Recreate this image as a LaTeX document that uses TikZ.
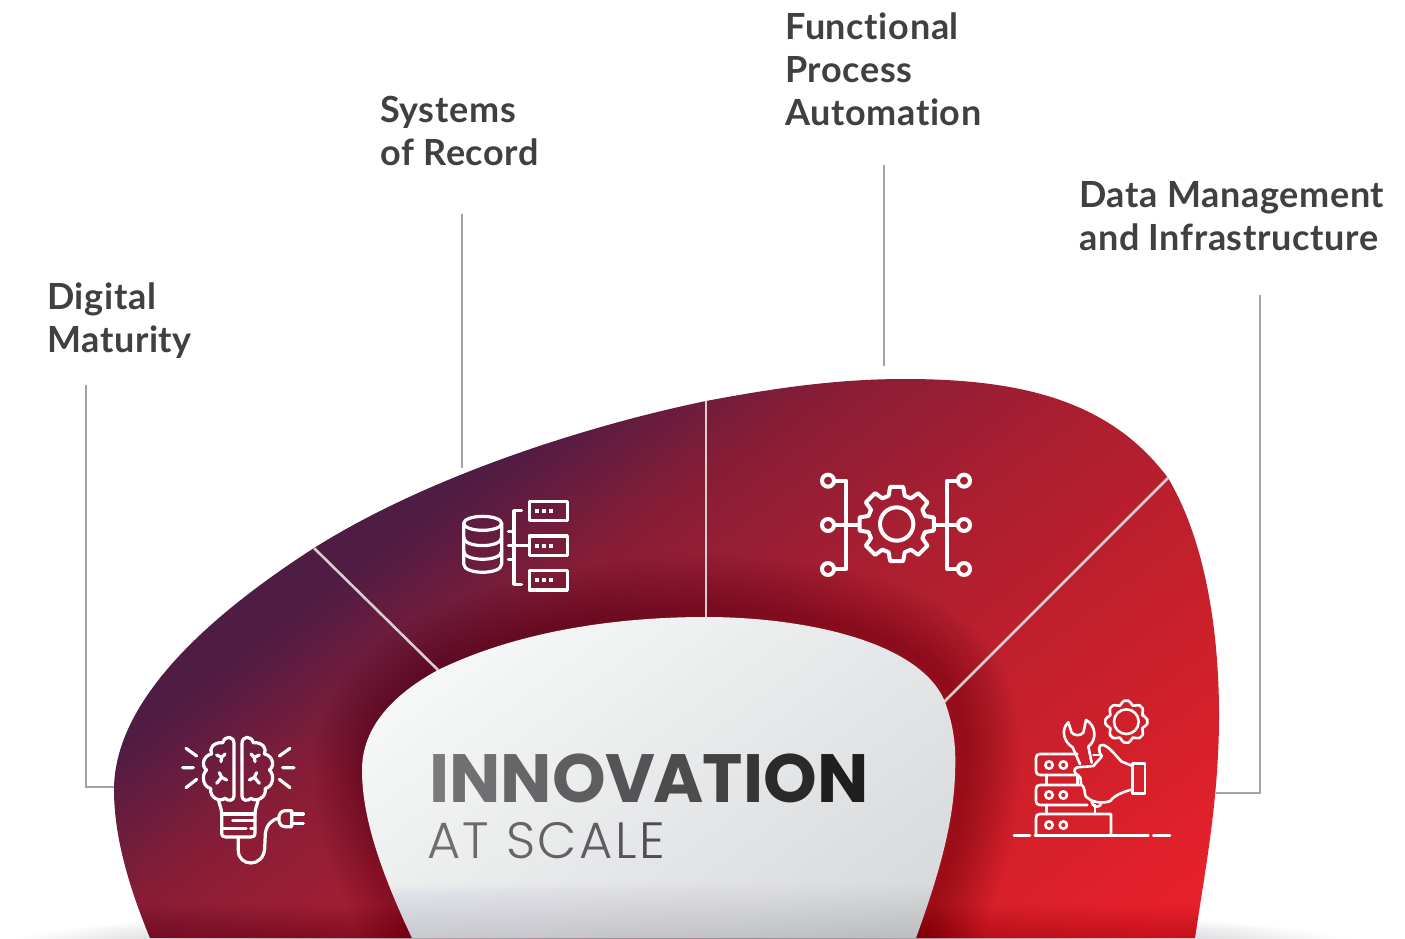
\documentclass[tikz,border=0pt]{standalone}
\usepackage{fontspec}
\setmainfont{Lato}
\newfontfamily\labelfont[UprightFont=* Bold,LetterSpace=1.8,Ligatures=NoCommon]{Lato}
\newfontfamily\titlefont[UprightFont=* Bold]{Poppins}
\newfontfamily\subfont[UprightFont=* Light]{Poppins}
\definecolor{labelgrey}{HTML}{404040}
\definecolor{leader}{HTML}{A3A3A3}
\definecolor{sep}{HTML}{DCCDD0}
\definecolor{gA}{HTML}{4F1C44}
\definecolor{gB}{HTML}{881D36}
\definecolor{gC}{HTML}{AD1F30}
\definecolor{gD}{HTML}{D2202A}
\definecolor{gE}{HTML}{E6212B}
\definecolor{wA}{HTML}{F6F7F7}
\definecolor{wB}{HTML}{D8D9DB}
\definecolor{groundc}{HTML}{70707F}
\definecolor{lowfade}{HTML}{8A8A98}
\newcommand{\lc}[2]{{\color[HTML]{#1}#2}}
\pgfdeclarehorizontalshading{outergrad}{3000pt}{
 color(0pt)=(gA); color(66pt)=(gA); color(205pt)=(gB); color(395pt)=(gC); color(674pt)=(gD); color(828pt)=(gE); color(1200pt)=(gE)}
\pgfdeclarehorizontalshading{innergrad}{3000pt}{
 color(0pt)=(wA); color(150pt)=(wA); color(624pt)=(wB); color(1000pt)=(wB)}
\tikzset{
  labeltext/.style={font=\labelfont\fontsize{36}{43}\selectfont,text=labelgrey,align=left,inner sep=0pt,anchor=north west},
  leaderline/.style={draw=leader,line width=1.5pt},
  sepline/.style={draw=sep,line width=2.6pt},
  icon/.style={draw=white,line width=3.2pt,line cap=round,line join=round},
  boldicon/.style={icon,line width=4pt},
  thinicon/.style={icon,line width=2.6pt},
}
\newcommand{\outerblob}{(150,938) .. controls (128,885) and (114,835) .. (114,790) .. controls (114,700) and (210,615) .. (314,548) .. controls (430,475) and (590,425) .. (706,401) .. controls (780,387) and (840,379) .. (905,379) .. controls (1020,379) and (1110,400) .. (1168,478) .. controls (1205,540) and (1219,630) .. (1219,715) .. controls (1219,800) and (1205,870) .. (1195,938) -- cycle}
\newcommand{\innerblob}{(412,938) .. controls (375,860) and (362,810) .. (362,770) .. controls (362,728) and (392,695) .. (438,670) .. controls (520,630) and (620,617) .. (706,617) .. controls (800,617) and (920,640) .. (945,702) .. controls (955,730) and (956,750) .. (955,775) .. controls (953,830) and (935,885) .. (916,938) -- cycle}
\newcommand{\brainhalf}{
  \draw[icon] (222,228) -- (222,70) .. controls (222,48) and (195,45) .. (188,68)
    .. controls (160,66) and (146,86) .. (155,102) .. controls (130,106) and (122,138) .. (140,150)
    .. controls (122,165) and (130,202) .. (152,205) .. controls (148,234) and (180,247) .. (195,235)
    .. controls (205,245) and (222,242) .. (222,228);
  \draw[icon] (170,105) -- (185,112) -- (195,102) (185,112) -- (183,125)
     (178,158) -- (185,172) -- (170,190) (185,172) -- (200,180);
}
\newcommand{\gearpath}[4]{% r1 r2 half-root half-tip
  (-#3:#1) \foreach \a in {0,45,...,315} { -- (\a-#3:#1) -- (\a-#4:#2) -- (\a+#4:#2) -- (\a+#3:#1) } -- cycle}
\begin{document}
\begin{tikzpicture}[x=1pt,y=-1pt]
\useasboundingbox (0,0) rectangle (1405,938);
\fill[white] (0,0) rectangle (1405,938);
% ground shadow
\begin{scope}
\clip (0,880) rectangle (1405,938);
\shade[inner color=groundc,outer color=white] (680,945) ellipse [x radius=680,y radius=40];
\end{scope}
% outer blob
\begin{scope}
\clip \outerblob;
\pgftext[left,at={\pgfpointxy{360}{480}},rotate=-53.13]{\pgfuseshading{outergrad}}
\begin{scope}[shift={(8,-5)}]
\foreach \w in {6,12,...,114} { \draw[black,opacity=0.010,line width=\w] \innerblob; }
\end{scope}
\foreach \i in {0,...,16} { \fill[black,opacity=0.006] (100,905+2*\i) rectangle (1250,938); }
\end{scope}
% separators
\coordinate (s1a) at (314,548); \coordinate (s1b) at (438,670);
\coordinate (s2a) at (706,401); \coordinate (s2b) at (706,617);
\coordinate (s3a) at (1168,478); \coordinate (s3b) at (944,702);
\draw[sepline] (s1a) -- (s1b);
\draw[sepline] (s2a) -- (s2b);
\draw[sepline] (s3a) -- (s3b);
% inner blob
\begin{scope}
\clip \innerblob;
\pgftext[left,at={\pgfpointxy{300}{587.5}},rotate=-53.13]{\pgfuseshading{innergrad}}
\foreach \i in {0,...,26} { \fill[lowfade,opacity=0.012] (340,884+2*\i) rectangle (970,938); }
\end{scope}
% labels
\node[labeltext] (digital) at (47,283) {Digital\\Maturity};
\node[labeltext] (systems) at (380,96) {Systems\\of Record};
\node[labeltext] (functional) at (785,13) {Functional\\Process\\Automation};
\node[labeltext] (data) at (1079,181) {Data Management\\and Infrastructure};
% leaders
\coordinate (l1a) at (86,385); \coordinate (l1b) at (86,787); \coordinate (l1c) at (114,787);
\coordinate (l2a) at (462,214); \coordinate (l2b) at (462,468);
\coordinate (l3a) at (884,165); \coordinate (l3b) at (884,366);
\coordinate (l4a) at (1260,295); \coordinate (l4b) at (1260,793); \coordinate (l4c) at (1216,793);
\draw[leaderline] (l1a) -- (l1b) -- (l1c);
\draw[leaderline] (l2a) -- (l2b);
\draw[leaderline] (l3a) -- (l3b);
\draw[leaderline] (l4a) -- (l4b) -- (l4c);
% title
\node[inner sep=0pt,anchor=base west] (innovation) at (429,802) {\titlefont\fontsize{68.3}{68.3}\selectfont
 \lc{7A7A7C}{I}\lc{707072}{N}\lc{666668}{N}\lc{5E5E60}{O}\lc{545456}{V}\kern-2pt\lc{4C4C4C}{A}\kern-1pt\lc{424242}{T}\lc{363636}{I}\lc{2A2A2A}{O}\lc{1F1F1F}{N}};
\node[inner sep=0pt,anchor=base west] (scale) at (427,858) {\subfont\fontsize{51}{51}\selectfont
 \lc{6E6E70}{A}\kern2.4pt\lc{6A6A6C}{T}\kern3pt\ \lc{666668}{S}\kern2.4pt\lc{626264}{C}\kern2.4pt\lc{5E5E60}{A}\kern2.4pt\lc{565658}{L}\kern2.4pt\lc{4E4E50}{E}};
% brain icon
\begin{scope}[shift={(160,720)},x=0.33333pt,y=-0.33333pt]
\draw[icon] (78,85) -- (110,108) (68,143) -- (100,143) (78,203) -- (110,178)
   (390,85) -- (358,108) (402,143) -- (368,143) (390,203) -- (358,178);
\brainhalf
\begin{scope}[xshift=156pt,xscale=-1]\brainhalf\end{scope}
\draw[icon] (175,238) .. controls (178,255) and (185,265) .. (185,282) -- (185,338) .. controls (185,348) and (190,351) .. (197,351) -- (273,351) .. controls (280,351) and (285,348) .. (285,338) -- (285,282) .. controls (285,265) and (292,255) .. (295,238);
\draw[icon] (185,282) -- (285,282) (218,302) -- (285,302) (185,325) -- (258,325) (272,325) -- (285,325);
\draw[icon] (235,352) -- (235,392) .. controls (235,440) and (310,445) .. (314,385) -- (316,340) .. controls (320,315) and (335,297) .. (358,295);
\draw[icon] (395,272) -- (375,272) .. controls (350,272) and (350,320) .. (375,320) -- (395,320) -- cycle;
\draw[icon] (395,282) -- (430,282) (395,310) -- (430,310);
\end{scope}
% database icon
\begin{scope}[shift={(440,480)},x=0.33333pt,y=-0.33333pt]
\draw[icon] (128,130) ellipse [x radius=57,y radius=21];
\draw[icon] (71,130) -- (71,252) .. controls (71,285) and (185,285) .. (185,252) -- (185,130);
\draw[icon] (71,172) .. controls (71,205) and (185,205) .. (185,172) (71,213) .. controls (71,246) and (185,246) .. (185,213);
\draw[icon] (245,92) -- (222,92) -- (222,313) -- (245,313);
\draw[icon] (205,155) -- (222,155) (205,197) -- (268,197) (205,238) -- (222,238);
\foreach \y in {64,168,272} {
  \draw[icon] (268,\y) rectangle (382,\y+58);
  \foreach \x in {285,305,326} { \fill[white] (\x,\y+23) rectangle (\x+12,\y+35); }
}
\end{scope}
% gear icon
\begin{scope}[shift={(800,455)},x=0.33333pt,y=-0.33333pt]
\foreach \p in {(84,77),(84,210),(84,342),(492,77),(492,210),(492,342)} { \draw[boldicon] \p circle [radius=18]; }
\draw[boldicon] (103,77) -- (138,77) -- (138,342) -- (103,342) (103,210) -- (175,210);
\draw[boldicon] (473,77) -- (442,77) -- (442,342) -- (473,342) (473,210) -- (405,210);
\begin{scope}[shift={(290,207)}]
\draw[boldicon] (0,0) circle [radius=50];
\draw[boldicon] \gearpath{88}{113}{16}{10};
\end{scope}
\end{scope}
% tools icon
\begin{scope}[shift={(1000,690)},x=0.33333pt,y=-0.33333pt]
\begin{scope}[shift={(379,95)}]
\draw[thinicon] (0,0) circle [radius=37];
\draw[thinicon,rounded corners=2pt] \gearpath{52}{64}{16}{11};
\end{scope}
\draw[thinicon] (42,437) -- (90,437) (105,437) -- (445,437) (460,437) -- (510,437);
\draw[thinicon] (232,192) -- (120,192) .. controls (112,192) and (108,196) .. (108,204) -- (108,243) .. controls (108,251) and (112,255) .. (120,255) -- (228,255);
\draw[thinicon] (280,195) -- (305,195);
\draw[thinicon] (240,285) -- (120,285) .. controls (112,285) and (108,289) .. (108,297) -- (108,333) .. controls (108,341) and (112,345) .. (120,345) -- (262,345);
\draw[thinicon] (330,372) -- (120,372) .. controls (112,372) and (108,376) .. (108,384) -- (108,437) (333,372) -- (333,437);
\draw[thinicon] (140,255) -- (140,285) (140,345) -- (140,372) (285,345) -- (285,372) (233,255) -- (233,285);
\foreach \x in {147,190} { \foreach \y in {225,315,405} { \draw[thinicon] (\x,\y) circle [radius=11]; } }
\draw[thinicon] (240,222) -- (218,172) .. controls (190,155) and (182,118) .. (205,97) -- (215,128) .. controls (225,138) and (240,138) .. (250,128) -- (258,90) .. controls (288,105) and (292,150) .. (265,170) -- (275,218);
\draw[thinicon] (398,228) -- (365,215) .. controls (345,195) and (328,170) .. (310,165) .. controls (293,160) and (295,185) .. (305,200) -- (280,228) -- (232,232) .. controls (220,235) and (220,250) .. (235,256) .. controls (250,265) and (235,285) .. (250,290) .. controls (258,305) and (250,320) .. (265,325) .. controls (280,340) and (320,340) .. (332,332) .. controls (340,318) and (370,305) .. (398,298);
\draw[thinicon] (398,220) rectangle (435,310);
\draw[thinicon] (275,335) .. controls (280,355) and (300,355) .. (305,338);
\end{scope}
\end{tikzpicture}
\end{document}
